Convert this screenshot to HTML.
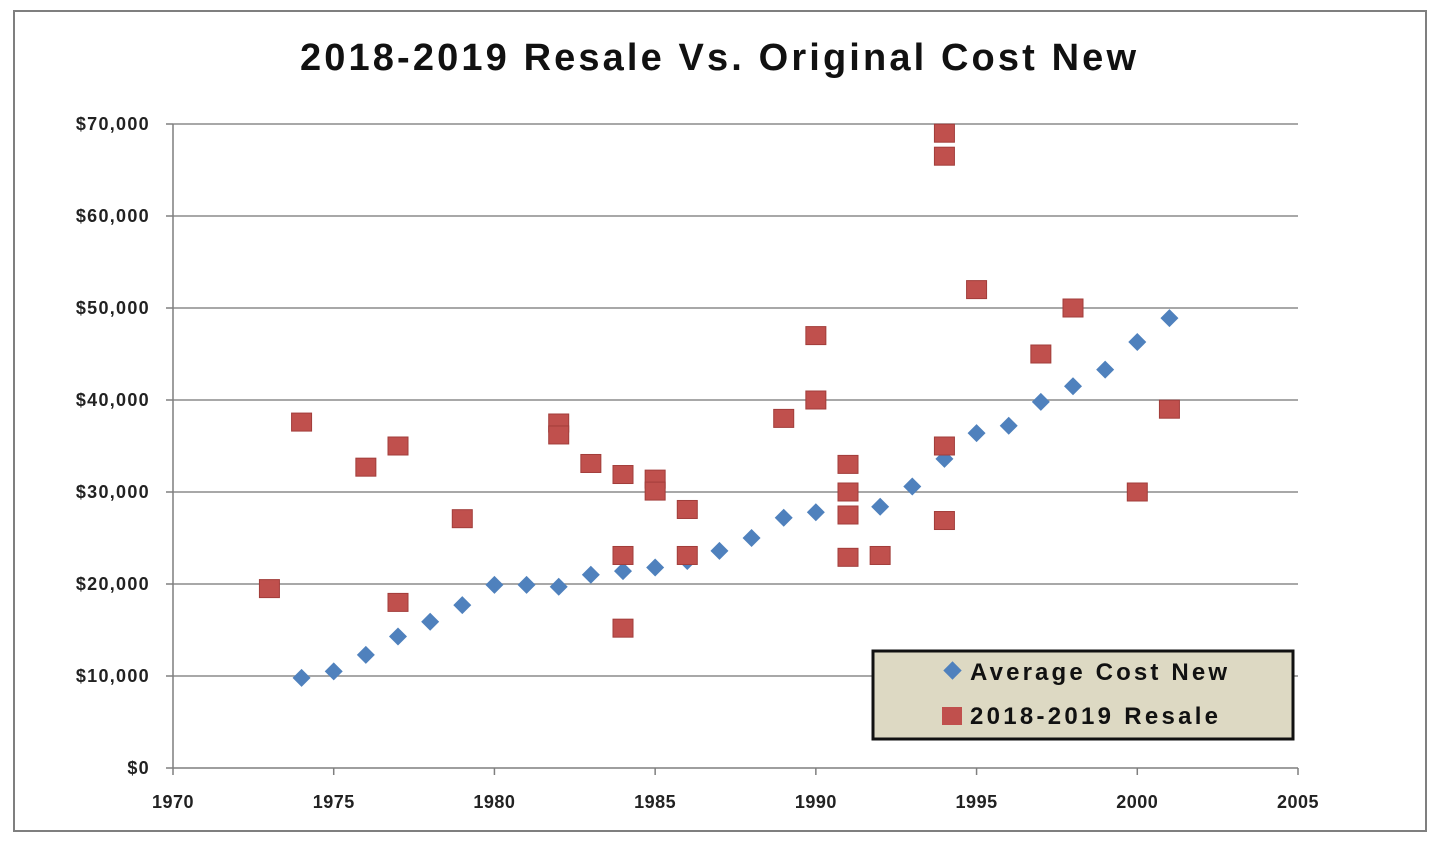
<!DOCTYPE html>
<html><head><meta charset="utf-8"><style>
body{margin:0;background:#fff;width:1440px;height:844px;overflow:hidden;font-family:"Liberation Sans",sans-serif}
</style></head><body>
<svg width="1440" height="844">
<rect x="14" y="11" width="1412" height="820" fill="#fff" stroke="#7f7f7f" stroke-width="2"/>
<text x="718" y="70" text-anchor="middle" font-size="38" font-weight="bold" fill="#111" textLength="836" lengthAdjust="spacing">2018-2019 Resale Vs. Original Cost New</text>
<g id="grid"></g><g id="axes"></g><g id="marks"></g>
<g>
<rect x="873" y="651" width="420" height="88" fill="#ddd9c3" stroke="#111" stroke-width="3"/>
<rect x="946" y="664" width="13" height="13" transform="rotate(45 952.5 670.5)" fill="#4f81bd"/>
<text x="970" y="680" font-size="24" font-weight="bold" fill="#111" textLength="257" lengthAdjust="spacing">Average Cost New</text>
<rect x="942" y="707" width="20" height="18" fill="#c0504d"/>
<text x="970" y="724" font-size="24" font-weight="bold" fill="#111" textLength="248" lengthAdjust="spacing">2018-2019 Resale</text>
</g>
</svg>
<script>
const yTicks=[0,10000,20000,30000,40000,50000,60000,70000];
const yTickLabels=["$0","$10,000","$20,000","$30,000","$40,000","$50,000","$60,000","$70,000"];
const xTicks=[1970,1975,1980,1985,1990,1995,2000,2005];
const avgYears=[1974,1975,1976,1977,1978,1979,1980,1981,1982,1983,1984,1985,1986,1987,1988,1989,1990,1992,1993,1994,1995,1996,1997,1998,1999,2000,2001];
const avgCost=[9800,10500,12300,14300,15900,17700,19900,19900,19700,21000,21400,21800,22500,23600,25000,27200,27800,28400,30600,33600,36400,37200,39800,41500,43300,46300,48900];
const resaleYears=[1973,1974,1976,1977,1977,1979,1982,1982,1983,1984,1984,1984,1985,1985,1986,1986,1989,1990,1990,1991,1991,1991,1991,1992,1994,1994,1994,1994,1995,1997,1998,2000,2001];
const resaleValues=[19500,37600,32700,35000,18000,27100,37500,36200,33100,31900,23100,15200,31400,30100,28100,23100,38000,47000,40000,33000,30000,27500,22900,23100,69000,66500,35000,26900,52000,45000,50000,30000,39000];
const NS="http://www.w3.org/2000/svg";
const X0=173,X1=1298,Y0=768,Y1=124;
const xs=v=>X0+(v-1970)/35*(X1-X0);
const ys=v=>Y0-v/70000*(Y0-Y1);
function mk(t,a,p){const e=document.createElementNS(NS,t);for(const k in a)e.setAttribute(k,a[k]);p.appendChild(e);return e;}
const grid=document.getElementById('grid'),axes=document.getElementById('axes'),marks=document.getElementById('marks');
yTicks.forEach((v,i)=>{
 const y=ys(v);
 if(v>0){const g=mk('line',{x1:X0,x2:X1,y1:y,y2:y,stroke:'#8c8c8c','stroke-width':1.5},grid);
 
 }
 const tk=mk('line',{x1:X0-7,x2:X0,y1:y,y2:y,stroke:'#7f7f7f','stroke-width':1.5},axes);
 
 
 const t=mk('text',{x:150,y:y+6,'text-anchor':'end','font-size':18,'font-weight':'bold',fill:'#222','letter-spacing':'1.3'},axes);
 t.textContent=yTickLabels[i];
 
 
});
const ya=mk('line',{x1:X0,x2:X0,y1:Y1,y2:Y0,stroke:'#7f7f7f','stroke-width':1.5},axes);


const xa=mk('line',{x1:X0,x2:X1,y1:Y0,y2:Y0,stroke:'#7f7f7f','stroke-width':1.5},axes);


xTicks.forEach(v=>{
 const x=xs(v);
 const tk=mk('line',{x1:x,x2:x,y1:Y0,y2:Y0+7,stroke:'#7f7f7f','stroke-width':1.5},axes);
 
 
 const t=mk('text',{x:x,y:808,'text-anchor':'middle','font-size':18,'font-weight':'bold',fill:'#222','letter-spacing':'0.5'},axes);
 t.textContent=v;
 
 
});
avgYears.forEach((yr,i)=>{
 const cx=xs(yr),cy=ys(avgCost[i]);
 const d=mk('polygon',{points:`${cx},${cy-9} ${cx+9},${cy} ${cx},${cy+9} ${cx-9},${cy}`,fill:'#4f81bd'},marks);
 
 
});
resaleYears.forEach((yr,i)=>{
 const cx=xs(yr),cy=ys(resaleValues[i]);
 const r=mk('rect',{x:cx-10,y:cy-9,width:20,height:18,fill:'#c0504d',stroke:'#a23d3a','stroke-width':1},marks);
 
 
});
</script>
</body></html>
